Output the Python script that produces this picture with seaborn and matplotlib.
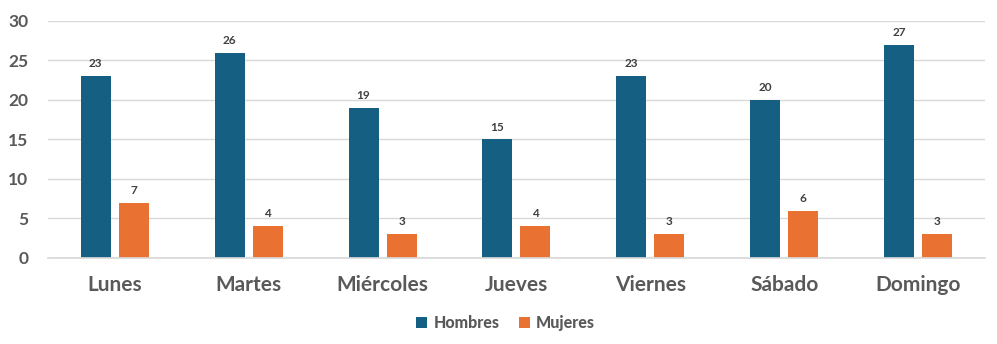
import matplotlib
matplotlib.use("Agg")
import matplotlib.pyplot as plt
import seaborn as sns
import pandas as pd

dias = ["Lunes", "Martes", "Miércoles", "Jueves", "Viernes", "Sábado", "Domingo"]
hombres = [23, 26, 19, 15, 23, 20, 27]
mujeres = [7, 4, 3, 4, 3, 6, 3]
series = ["Hombres", "Mujeres"]
colores = ["#156082", "#E97132"]

df = pd.DataFrame({
    "dia": dias * 2,
    "valor": hombres + mujeres,
    "serie": [series[0]] * len(dias) + [series[1]] * len(dias),
})

sns.set_theme(style="white")
plt.rcParams["font.family"] = ["Lato", "DejaVu Sans"]

fig = plt.figure(figsize=(9.97, 3.44), dpi=100)
ax = fig.add_axes([0.048, 0.25, 0.94, 0.689])

sns.barplot(data=df, x="dia", y="valor", hue="serie", order=dias, hue_order=series,
            palette=colores, width=0.568, gap=0.21, ax=ax, legend=True, saturation=1,
            linewidth=0, edgecolor="none")

for c in ax.containers:
    ax.bar_label(c, padding=5, fontsize=8.5, fontweight="bold", color="#404040")

ax.set_ylim(0, 30)
ax.set_yticks(range(0, 31, 5))
ax.yaxis.grid(True, color="#D9D9D9", linewidth=1)
ax.set_axisbelow(True)
for s in ["top", "right", "left"]:
    ax.spines[s].set_visible(False)
ax.spines["bottom"].set_color("#D9D9D9")
ax.set_xlabel("")
ax.set_ylabel("")
ax.tick_params(axis="y", labelsize=12.5, labelcolor="#595959", length=0, pad=14)
ax.tick_params(axis="x", labelsize=15, labelcolor="#595959", length=0, pad=12)
for t in ax.get_yticklabels() + ax.get_xticklabels():
    t.set_fontweight("bold")

handles, labels = ax.get_legend_handles_labels()
ax.get_legend().remove()
leg = fig.legend(handles, labels, loc="center", bbox_to_anchor=(0.507, 0.06), ncol=2, frameon=False,
                 fontsize=11.5, handlelength=0.7, handleheight=0.7, columnspacing=1.2,
                 handletextpad=0.4)
for t in leg.get_texts():
    t.set_color("#595959")
    t.set_fontweight("black")

fig.savefig("out.png", dpi=100)
